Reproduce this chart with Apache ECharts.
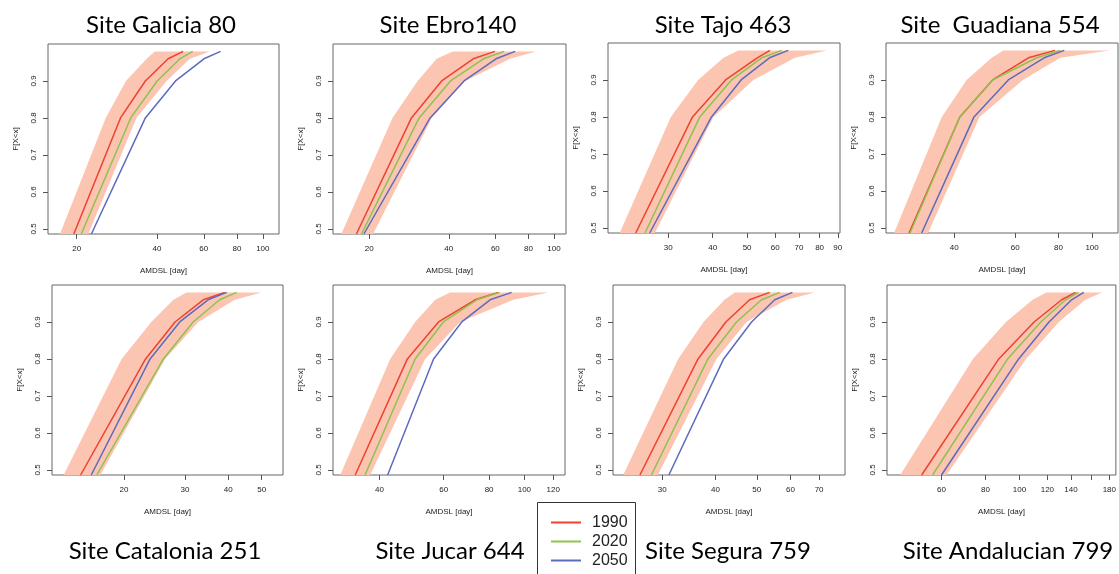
<!DOCTYPE html>
<html>
<head>
<meta charset="utf-8">
<script src="https://cdn.jsdelivr.net/npm/echarts@6/dist/echarts.min.js"></script>
<style>
  html, body { margin: 0; padding: 0; background: #fff; }
  #chart { width: 1119px; height: 574px; }
</style>
</head>
<body>
<div id="chart"></div>
<script>
// non-exceedance levels where the curves bend (first one = bottom of the plot)
const probLevels = [0.486, 0.8, 0.9, 0.96, 0.98]
const yTicks = [0.5, 0.6, 0.7, 0.8, 0.9]
const years = ['1990', '2020', '2050']

const siteNames = ['Site Galicia 80', 'Site Ebro140', 'Site Tajo 463', 'Site  Guadiana 554',
  'Site Catalonia 251', 'Site Jucar 644', 'Site Segura 759', 'Site Andalucian 799']

// AMDSL [day] values
const galicia1990 = [19.5, 29.2, 36.2, 44.1, 50.2]
const galicia2020 = [20.8, 31.9, 40.1, 48.8, 54.5]
const galicia2050 = [22.7, 36.2, 47.0, 60.1, 69.4]
const galiciaLow = [17.3, 25.7, 30.6, 36.6, 39.3]
const galiciaHigh = [22.1, 33.5, 43.5, 53.2, 63.3]

const ebro1990 = [17.9, 28.9, 37.6, 49.5, 59.8]
const ebro2020 = [18.7, 30.9, 40.6, 54.1, 64.7]
const ebro2050 = [19.1, 34.0, 45.7, 60.4, 71.3]
const ebroLow = [15.7, 24.5, 30.5, 36.0, 41.4]
const ebroHigh = [20.7, 34.5, 46.1, 68.2, 85.5]

const tajo1990 = [24.3, 35.1, 43.5, 53.4, 58.0]
const tajo2020 = [25.8, 36.8, 45.2, 55.0, 62.6]
const tajo2050 = [26.6, 39.7, 48.1, 57.8, 65.3]
const tajoLow = [21.9, 30.5, 36.4, 42.9, 47.2]
const tajoHigh = [27.5, 40.2, 52.1, 68.2, 83.8]

const guadiana1990 = [29.6, 41.5, 51.6, 65.5, 78.2]
const guadiana2020 = [29.8, 41.5, 51.6, 69.2, 80.9]
const guadiana2050 = [32.2, 45.6, 57.3, 72.7, 83.1]
const guadianaLow = [26.8, 36.8, 43.4, 51.3, 55.4]
const guadianaHigh = [33.6, 47.3, 63.1, 80.9, 112.4]

const catalonia1990 = [15.0, 23.1, 28.1, 33.9, 39.1]
const catalonia2020 = [16.7, 26.0, 31.7, 37.8, 42.3]
const catalonia2050 = [16.1, 23.8, 29.0, 35.0, 39.6]
const cataloniaLow = [13.4, 19.7, 24.0, 27.8, 30.3]
const cataloniaHigh = [17.1, 26.3, 32.8, 41.8, 49.9]

const jucar1990 = [34.3, 47.7, 58.1, 73.2, 84.8]
const jucar2020 = [36.5, 50.1, 59.9, 74.0, 85.4]
const jucar2050 = [42.1, 56.3, 67.3, 80.5, 92.3]
const jucarLow = [31.2, 42.8, 50.1, 56.9, 62.5]
const jucarHigh = [37.7, 53.4, 66.6, 93.3, 116.4]

const segura1990 = [26.6, 36.4, 42.3, 48.1, 53.6]
const segura2020 = [28.3, 38.4, 44.8, 51.3, 56.6]
const segura2050 = [31.1, 41.8, 48.6, 55.1, 60.6]
const seguraLow = [24.3, 32.7, 37.5, 42.0, 44.4]
const seguraHigh = [29.3, 40.2, 47.3, 58.7, 68.4]

const andalucian1990 = [52.7, 87.3, 110.0, 131.8, 144.3]
const andalucian2020 = [56.6, 92.5, 114.9, 135.2, 146.8]
const andalucian2050 = [60.0, 99.4, 121.3, 140.6, 152.3]
const andalucianLow = [45.8, 73.7, 91.5, 108.9, 119.2]
const andalucianHigh = [62.0, 104.3, 129.4, 153.9, 171.6]

// x axis (log) ranges and ticks of each panel
const xMins = [15.6, 14.6, 20.3, 25.4, 12.4, 29.8, 23.0, 42.0]
const xMaxs = [115, 111, 91.3, 118.8, 57.6, 129.3, 80.5, 187.9]
const xTicks = [
  [20, 40, 60, 80, 100],
  [20, 40, 60, 80, 100],
  [30, 40, 50, 60, 70, 80, 90],
  [40, 60, 80, 100, 120],
  [20, 30, 40, 50],
  [40, 60, 80, 100, 120],
  [30, 40, 50, 60, 70],
  [60, 80, 100, 120, 140, 160, 180]
]
const xLabels = [
  [20, 40, 60, 80, 100],
  [20, 40, 60, 80, 100],
  [30, 40, 50, 60, 70, 80, 90],
  [40, 60, 80, 100, 120],
  [20, 30, 40, 50],
  [40, 60, 80, 100, 120],
  [30, 40, 50, 60, 70],
  [60, 80, 100, 120, 140, 180]
]

const panels = [
  [galicia1990, galicia2020, galicia2050, galiciaLow, galiciaHigh],
  [ebro1990, ebro2020, ebro2050, ebroLow, ebroHigh],
  [tajo1990, tajo2020, tajo2050, tajoLow, tajoHigh],
  [guadiana1990, guadiana2020, guadiana2050, guadianaLow, guadianaHigh],
  [catalonia1990, catalonia2020, catalonia2050, cataloniaLow, cataloniaHigh],
  [jucar1990, jucar2020, jucar2050, jucarLow, jucarHigh],
  [segura1990, segura2020, segura2050, seguraLow, seguraHigh],
  [andalucian1990, andalucian2020, andalucian2050, andalucianLow, andalucianHigh]
]

// layout (px): left, top, width, height of each plot box
const boxes = [
  [48, 44, 231, 190], [333, 44, 233, 190], [608, 43, 232, 190], [886, 43, 232, 190],
  [52, 285, 231, 190], [333, 285, 232, 190], [613, 285, 232, 190], [887, 285, 230, 190]
]
const titlePos = [[161, 25], [448, 25], [723, 25], [1000, 25], [165, 551], [450, 551], [728, 551], [1008, 551]]

const lineColors = ['#ee4130', '#8ec24f', '#5c6bbd']
const bandColor = '#fbc5b1'
const axisFont = 'Liberation Sans, Arial, sans-serif'

const chart = echarts.init(document.getElementById('chart'))

const grids = []
const xAxes = []
const yAxes = []
const series = []

boxes.forEach((b, i) => {
  grids.push({
    left: b[0], top: b[1], width: b[2], height: b[3],
    show: true, borderColor: '#666', borderWidth: 1, backgroundColor: 'transparent'
  })
  xAxes.push({
    type: 'log', logBase: 10, gridIndex: i, min: xMins[i], max: xMaxs[i],
    name: 'AMDSL [day]', nameLocation: 'middle', nameGap: 33,
    nameTextStyle: { fontSize: 8, color: '#222', fontFamily: axisFont },
    axisLine: { show: false },
    axisTick: { customValues: xTicks[i], length: 5, lineStyle: { color: '#555' } },
    axisLabel: { customValues: xLabels[i], fontSize: 8, color: '#222', margin: 11, fontFamily: axisFont },
    splitLine: { show: false }
  })
  yAxes.push({
    type: 'value', gridIndex: i, min: 0.486, max: 1.0,
    name: 'F[X<x]', nameLocation: 'middle', nameGap: 28,
    nameTextStyle: { fontSize: 8, color: '#222', fontFamily: axisFont },
    axisLine: { show: false },
    axisTick: { customValues: yTicks, length: 5, lineStyle: { color: '#555' } },
    axisLabel: {
      customValues: yTicks, rotate: 90, fontSize: 8, color: '#222', margin: 10, fontFamily: axisFont,
      formatter: v => Number(v).toFixed(1)
    },
    splitLine: { show: false }
  })

  const [c1990, c2020, c2050, low, high] = panels[i]

  // shaded spread band
  series.push({
    type: 'custom', xAxisIndex: i, yAxisIndex: i, silent: true, z: 1,
    data: low.map((v, k) => [v, probLevels[k]]),
    renderItem(params, api) {
      if (params.dataIndex !== 0) return
      const pts = low.map((v, k) => api.coord([v, probLevels[k]]))
      for (let k = high.length - 1; k >= 0; k--) {
        pts.push(api.coord([high[k], probLevels[k]]))
      }
      return { type: 'polygon', shape: { points: pts }, style: { fill: bandColor } }
    }
  })

  ;[c1990, c2020, c2050].forEach((vals, k) => {
    series.push({
      name: years[k], type: 'line', xAxisIndex: i, yAxisIndex: i, z: 2 + k,
      data: vals.map((v, j) => [v, probLevels[j]]),
      symbol: 'none', clip: true,
      itemStyle: { color: lineColors[k] },
      lineStyle: { color: lineColors[k], width: 1.5 }
    })
  })
})

const graphics = siteNames.map((t, i) => ({
  type: 'text', x: titlePos[i][0], y: titlePos[i][1],
  style: {
    text: t, fill: '#000', font: '24px Lato, "Open Sans", sans-serif',
    textAlign: 'center', textVerticalAlign: 'middle'
  }
}))
// legend frame (runs off the bottom of the picture)
graphics.push({
  type: 'rect', z: 0,
  shape: { x: 537.5, y: 502.5, width: 98, height: 90 },
  style: { fill: '#fff', stroke: '#333', lineWidth: 1 }
})

chart.setOption({
  animation: false,
  grid: grids,
  xAxis: xAxes,
  yAxis: yAxes,
  legend: {
    data: years, orient: 'vertical', left: 551, top: 514, z: 10,
    width: 90, height: 70, padding: 0,
    icon: 'rect', itemWidth: 30, itemHeight: 2, itemGap: 2,
    textStyle: { fontSize: 16, lineHeight: 17, color: '#222', fontFamily: axisFont, padding: [0, 0, 0, 6] }
  },
  graphic: graphics,
  series: series
})
</script>
</body>
</html>
